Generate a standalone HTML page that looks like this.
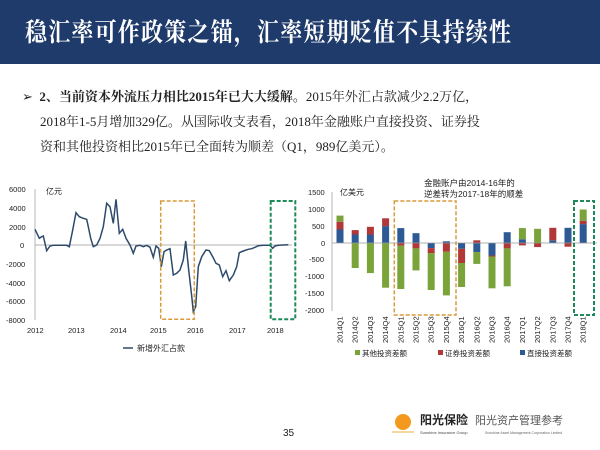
<!DOCTYPE html>
<html><head><meta charset="utf-8"><style>
body{margin:0;width:600px;height:450px;background:#fff;overflow:hidden;position:relative;font-family:"Liberation Sans","Noto Sans CJK SC",sans-serif}
.title{position:absolute;left:0;top:0;width:600px;height:64px;background:#1f3b6b;color:#fff;overflow:hidden}
.title span{position:absolute;left:25px;top:17px;font-family:"Liberation Serif","Noto Serif CJK SC",serif;font-weight:bold;font-size:22px;letter-spacing:1.2px;line-height:28px;white-space:nowrap;transform:scaleY(1.15);transform-origin:left top}
.body{position:absolute;left:22px;top:84px;font-family:"Liberation Serif","Noto Serif CJK SC",serif;font-size:13px;line-height:25px;color:#222;white-space:nowrap}
.body p{margin:0}
svg{position:absolute;left:0;top:0}
</style></head><body>
<div class="title"><span>稳汇率可作政策之锚，汇率短期贬值不具持续性</span></div>
<div class="body">
<p>➢ &nbsp;<b>2、当前资本外流压力相比2015年已大大缓解。</b>2015年外汇占款减少2.2万亿，</p>
<p style="padding-left:18px">2018年1-5月增加329亿。从国际收支表看，2018年金融账户直接投资、证券投</p>
<p style="padding-left:18px">资和其他投资相比2015年已全面转为顺差（Q1，989亿美元）。</p>
</div>
<svg id="s" width="600" height="450" viewBox="0 0 600 450" font-family="Liberation Sans, Noto Sans CJK SC, sans-serif">
<g font-size="8" fill="#222">
<text x="46" y="194">亿元</text>
<text x="9" y="192" font-size="7.5">6000</text>
<text x="9" y="211" font-size="7.5">4000</text>
<text x="9" y="230" font-size="7.5">2000</text>
<text x="20" y="248" font-size="7.5">0</text>
<text x="6" y="267" font-size="7.5">-2000</text>
<text x="6" y="286" font-size="7.5">-4000</text>
<text x="6" y="304" font-size="7.5">-6000</text>
<text x="6" y="323" font-size="7.5">-8000</text>
<text x="27" y="333" font-size="7.5">2012</text><text x="68" y="333" font-size="7.5">2013</text><text x="110" y="333" font-size="7.5">2014</text><text x="150" y="333" font-size="7.5">2015</text><text x="187" y="333" font-size="7.5">2016</text><text x="229" y="333" font-size="7.5">2017</text><text x="267" y="333" font-size="7.5">2018</text>
<text x="137" y="351">新增外汇占款</text>
</g>
<line x1="35" y1="189" x2="35" y2="320" stroke="#999" stroke-width="0.7"/>
<line x1="35" y1="245" x2="292" y2="245" stroke="#999" stroke-width="0.7"/>
<line x1="123" y1="348" x2="133" y2="348" stroke="#2d4a6b" stroke-width="1.5"/>
<polyline id="ln" fill="none" stroke="#2d4a6b" stroke-width="1.5"/>
<rect x="160.7" y="201" width="33.6" height="118.3" fill="none" stroke="#d99a3a" stroke-width="1.5" stroke-dasharray="4,2"/>
<rect x="270.7" y="201" width="24.6" height="118.3" fill="none" stroke="#1e8a5a" stroke-width="2" stroke-dasharray="4,2"/>
<g id="bars"></g>
<g font-size="7.5" fill="#222">
<text x="340" y="195" font-size="8">亿美元</text>
<text x="424" y="186" font-size="8.5">金融账户由2014-16年的</text>
<text x="424" y="197" font-size="8.5">逆差转为2017-18年的顺差</text>
<text x="308" y="195">1500</text><text x="308" y="212">1000</text><text x="312" y="229">500</text><text x="321" y="246">0</text>
<text x="309" y="262">-500</text><text x="305" y="279">-1000</text><text x="305" y="296">-1500</text><text x="305" y="313">-2000</text>
</g>
<g id="xl" font-size="7.5" fill="#222"></g>
<g font-size="7.5" fill="#222">
<rect x="355" y="350" width="5" height="5" fill="#7aa33a"/><text x="362" y="356">其他投资差额</text>
<rect x="438" y="350" width="5" height="5" fill="#b03838"/><text x="445" y="356">证券投资差额</text>
<rect x="520" y="350" width="5" height="5" fill="#2d5a94"/><text x="527" y="356">直接投资差额</text>
</g>
<line x1="332" y1="192" x2="332" y2="311" stroke="#999" stroke-width="0.7"/>
<line x1="332" y1="243" x2="597" y2="243" stroke="#999" stroke-width="0.7"/>
<rect x="394.3" y="201" width="61.7" height="114" fill="none" stroke="#d99a3a" stroke-width="1.5" stroke-dasharray="4,2"/>
<rect x="574" y="201" width="20" height="114" fill="none" stroke="#1e8a5a" stroke-width="2" stroke-dasharray="4,2"/>
<text x="283" y="436" font-size="10" fill="#222">35</text>
<circle cx="403" cy="422" r="8" fill="#f39a1e"/>
<line x1="392" y1="432" x2="414" y2="432" stroke="#e8b040" stroke-width="1"/>
<text x="420" y="424" font-size="12" font-weight="bold" fill="#222">阳光保险</text>
<text x="420" y="434" font-size="4" fill="#444">Sunshine Insurance Group</text>
<text x="475" y="424" font-size="11" fill="#555">阳光资产管理参考</text>
<text x="485" y="434" font-size="3.5" fill="#666">Sunshine Asset Management Corporation Limited</text>
</svg>
<script>
var z=[[105,208],[118,235],[125,230],[130,228],[140,272],[150,258],[160,256],[200,256],[208,260],[218,210],[228,158],[238,170],[250,175],[260,178],[265,200],[272,235],[280,260],[290,255],[300,235],[310,200],[320,130],[330,140],[340,190],[348,118],[358,220],[368,208],[378,235],[390,255],[400,280],[408,258],[420,256],[430,260],[440,256],[450,262],[460,292],[468,258],[476,265],[484,320],[492,275],[500,270],[510,266],[520,345],[530,340],[540,330],[550,300],[557,243],[566,330],[575,408],[580,455],[587,440],[595,320],[605,290],[618,270],[628,272],[638,290],[648,310],[658,315],[668,350],[678,332],[688,362],[700,345],[710,320],[718,278],[730,273],[745,268],[755,266],[765,262],[775,257],[790,256],[810,256],[818,265],[825,258],[835,256],[865,254]];
document.getElementById('ln').setAttribute('points',z.map(function(p){return (p[0]/3).toFixed(1)+','+(160+p[1]/3).toFixed(1)}).join(' '));
var d=[[400,230,180],[250,130,-740],[250,230,-890],[500,230,-1320],[440,-80,-1280],[290,-160,-650],[-150,-150,-1090],[50,-260,-1290],[-170,-420,-710],[-270,80,-350],[-370,-30,-940],[320,-160,-1120],[110,-70,330],[0,-120,420],[80,370,0],[450,-110,0],[560,100,330]];
var lab=['2014Q1','2014Q2','2014Q3','2014Q4','2015Q1','2015Q2','2015Q3','2015Q4','2016Q1','2016Q2','2016Q3','2016Q4','2017Q1','2017Q2','2017Q3','2017Q4','2018Q1'];
var col=['#2d5a94','#b03838','#7aa33a'];var y0=243,k=0.03383,h='',t='';
d.forEach(function(r,i){var cx=300+(120+i*45.6)/3,pos=0,neg=0;
r.forEach(function(v,j){if(!v)return;var a,b;if(v>0){a=pos;pos+=v;b=pos}else{a=neg;neg+=v;b=neg}
var yt=y0-Math.max(a,b)*k,hh=Math.abs(v)*k;h+='<rect x="'+(cx-3.5).toFixed(1)+'" y="'+yt.toFixed(1)+'" width="7" height="'+hh.toFixed(1)+'" fill="'+col[j]+'"/>';});
t+='<text transform="translate('+(cx+2.5).toFixed(1)+',343) rotate(-90)">'+lab[i]+'</text>';});
document.getElementById('bars').innerHTML=h;document.getElementById('xl').innerHTML=t;
</script>
</body></html>
